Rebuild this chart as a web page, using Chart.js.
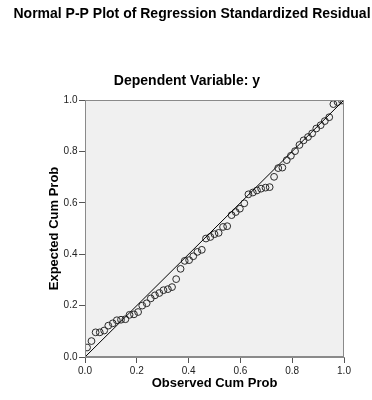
<!DOCTYPE html>
<html>
<head>
<meta charset="utf-8">
<script src="https://cdn.jsdelivr.net/npm/chart.js@4"></script>
<style>
  html, body { margin: 0; padding: 0; background: #fff; }
  #wrap { width: 372px; height: 400px; }
</style>
</head>
<body>
<div id="wrap"><canvas id="ppChart" width="372" height="400"></canvas></div>
<script>
// Данные графика
const observedProb = [
    0.008, 0.025, 0.041, 0.057, 0.074, 0.090, 0.107, 0.123, 0.139, 0.156,
    0.172, 0.189, 0.205, 0.221, 0.238, 0.254, 0.270, 0.287, 0.303, 0.320,
    0.336, 0.352, 0.369, 0.385, 0.402, 0.418, 0.434, 0.451, 0.467, 0.484,
    0.500, 0.516, 0.533, 0.549, 0.566, 0.582, 0.598, 0.615, 0.631, 0.648,
    0.664, 0.680, 0.697, 0.713, 0.730, 0.746, 0.762, 0.779, 0.795, 0.811,
    0.828, 0.844, 0.861, 0.877, 0.893, 0.910, 0.926, 0.943, 0.959, 0.975,
    0.992
];
const expectedProb = [
    0.037, 0.062, 0.096, 0.096, 0.103, 0.122, 0.131, 0.143, 0.145, 0.147,
    0.164, 0.166, 0.175, 0.200, 0.209, 0.228, 0.240, 0.249, 0.260, 0.264,
    0.272, 0.303, 0.343, 0.374, 0.377, 0.392, 0.409, 0.417, 0.461, 0.467,
    0.478, 0.483, 0.506, 0.509, 0.552, 0.564, 0.577, 0.598, 0.633, 0.640,
    0.648, 0.655, 0.659, 0.661, 0.701, 0.735, 0.737, 0.766, 0.783, 0.801,
    0.825, 0.843, 0.856, 0.870, 0.889, 0.902, 0.918, 0.933, 0.984, 0.992,
    0.998
];
const refLine = [0, 1];
const tickValues = [0, 0.2, 0.4, 0.6, 0.8, 1.0];

const mainTitle = 'Normal P-P Plot of Regression Standardized Residual';
const subTitle = 'Dependent Variable: y';
const xTitle = 'Observed Cum Prob';
const yTitle = 'Expected Cum Prob';

const FONT = 'Arial, "Liberation Sans", sans-serif';

// Фон области графика, рамка и заголовки
const framePlugin = {
    id: 'frame',
    beforeDraw(chart) {
        const { ctx, chartArea: a } = chart;
        ctx.save();
        ctx.fillStyle = '#ffffff';
        ctx.fillRect(0, 0, chart.width, chart.height);
        ctx.fillStyle = '#f0f0f0';
        ctx.fillRect(a.left, a.top, a.right - a.left, a.bottom - a.top);

        ctx.fillStyle = '#000';
        ctx.textAlign = 'center';
        ctx.textBaseline = 'middle';
        ctx.font = 'bold 14px ' + FONT;
        ctx.fillText(mainTitle, 192, 14);
        ctx.fillText(subTitle, 187, 81);
        ctx.restore();
    },
    afterDatasetsDraw(chart) {
        const { ctx, chartArea: a } = chart;
        ctx.save();
        ctx.strokeStyle = '#8a8a8a';
        ctx.lineWidth = 1;
        ctx.strokeRect(a.left + 0.5, a.top + 0.5, a.right - a.left - 1, a.bottom - a.top - 1);
        ctx.restore();
    }
};

function createChart() {
    const ctx = document.getElementById('ppChart').getContext('2d');
    new Chart(ctx, {
        type: 'scatter',
        data: {
            datasets: [
                {
                    type: 'line',
                    data: refLine.map(v => ({ x: v, y: v })),
                    borderColor: '#000',
                    borderWidth: 1,
                    pointRadius: 0,
                    fill: false
                },
                {
                    data: observedProb.map((v, i) => ({ x: v, y: expectedProb[i] })),
                    pointRadius: 3.4,
                    pointBorderWidth: 1,
                    borderColor: '#2a2a2a',
                    backgroundColor: 'rgba(0,0,0,0)'
                }
            ]
        },
        options: {
            responsive: false,
            animation: false,
            layout: { padding: { top: 100, right: 28, left: 0, bottom: 0 } },
            plugins: {
                legend: { display: false },
                tooltip: { enabled: false }
            },
            scales: {
                x: {
                    type: 'linear',
                    min: 0,
                    max: 1,
                    afterFit(scale) { scale.height = 43; },
                    afterBuildTicks(scale) { scale.ticks = tickValues.map(v => ({ value: v })); },
                    ticks: {
                        padding: 2,
                        color: '#222',
                        font: { family: FONT, size: 10 },
                        callback: v => v.toFixed(1)
                    },
                    grid: { drawOnChartArea: false, drawTicks: true, tickLength: 6, color: '#555' },
                    border: { color: '#8a8a8a' },
                    title: {
                        display: true,
                        text: xTitle,
                        color: '#000',
                        font: { family: FONT, size: 13, weight: 'bold' },
                        padding: { top: 0, bottom: 9 }
                    }
                },
                y: {
                    type: 'linear',
                    min: 0,
                    max: 1,
                    afterFit(scale) { scale.width = 85; },
                    afterBuildTicks(scale) { scale.ticks = tickValues.map(v => ({ value: v })); },
                    ticks: {
                        padding: 1.5,
                        color: '#222',
                        font: { family: FONT, size: 10 },
                        callback: v => v.toFixed(1)
                    },
                    grid: { drawOnChartArea: false, drawTicks: true, tickLength: 6, color: '#555' },
                    border: { color: '#8a8a8a' },
                    title: {
                        display: true,
                        text: yTitle,
                        color: '#000',
                        font: { family: FONT, size: 13, weight: 'bold' },
                        padding: { top: 47, bottom: 0 }
                    }
                }
            }
        },
        plugins: [framePlugin]
    });
}

window.addEventListener('DOMContentLoaded', () => {
    createChart();
});
</script>
</body>
</html>
